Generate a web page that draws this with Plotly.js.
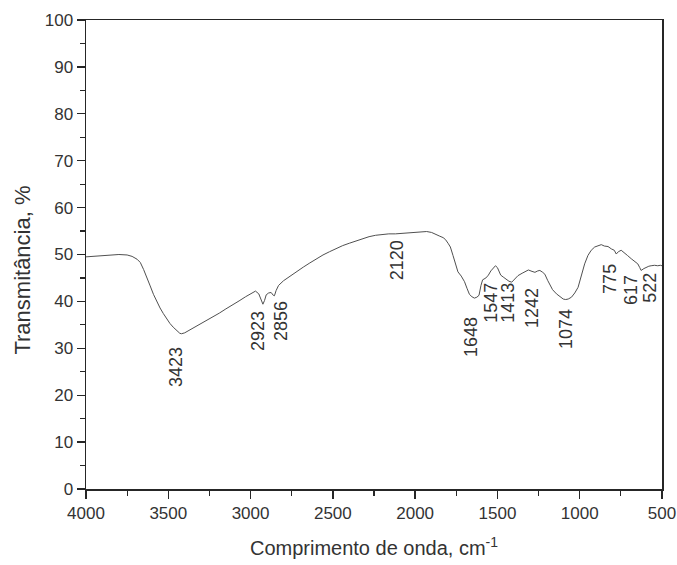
<!DOCTYPE html>
<html>
<head>
<meta charset="utf-8">
<script src="https://cdn.plot.ly/plotly-3.0.1.min.js"></script>
<style>html,body{margin:0;padding:0;background:#fff;}#chart{width:677px;height:565px;}</style>
</head>
<body>
<div id="chart"></div>
<script>
// Wavenumber (cm-1) and transmittance (%)
const wavenumber = [4000,3950,3900,3850,3800,3750,3720,3690,3670,3650,3630,3610,3590,3570,3550,3530,3510,3490,3470,3450,3430,3420,3400,3380,3350,3310,3270,3230,3190,3150,3110,3070,3030,2990,2970,2950,2935,2925,2915,2905,2890,2875,2862,2855,2845,2830,2800,2760,2720,2680,2640,2600,2560,2520,2480,2440,2400,2360,2320,2280,2240,2200,2160,2120,2080,2040,2000,1960,1930,1900,1877,1850,1830,1816,1800,1786,1770,1756,1740,1720,1700,1685,1670,1655,1640,1625,1612,1600,1590,1570,1555,1540,1525,1512,1500,1490,1480,1465,1450,1430,1413,1395,1375,1350,1330,1312,1290,1272,1255,1242,1225,1212,1195,1181,1165,1141,1120,1100,1085,1070,1050,1030,1010,990,970,950,930,909,890,869,850,828,808,790,778,765,748,730,710,687,665,647,635,627,610,596,580,566,545,526,510,500];
const transmittance = [49.5,49.6,49.7,49.9,50.0,49.9,49.6,49.0,48.3,46.8,45.2,43.3,41.5,40.0,38.6,37.4,36.3,35.3,34.5,33.8,33.2,33.1,33.3,33.7,34.3,35.1,35.8,36.6,37.5,38.4,39.2,40.1,41.0,41.8,42.2,41.6,40.2,39.4,40.2,41.4,41.8,41.9,41.3,41.2,42.3,43.4,44.4,45.4,46.3,47.3,48.2,49.1,49.9,50.6,51.3,51.9,52.4,52.9,53.4,53.8,54.1,54.3,54.4,54.4,54.5,54.6,54.8,54.9,54.9,54.7,54.4,53.9,53.6,53.2,52.4,51.6,49.8,48.0,46.3,45.4,44.2,42.8,41.5,41.0,40.7,40.9,41.3,43.4,44.6,45.0,45.6,46.5,47.0,47.6,47.2,46.4,45.6,45.2,44.8,44.3,44.1,44.8,45.5,46.0,46.4,46.7,46.4,46.2,46.5,46.6,46.2,45.8,44.5,43.4,42.5,41.6,41.0,40.5,40.4,40.5,40.9,41.8,43.0,45.6,48.0,49.8,50.9,51.6,51.9,52.1,51.8,51.7,51.2,50.9,50.1,50.6,50.9,50.3,49.8,49.1,48.6,48.0,47.2,46.6,47.0,47.3,47.5,47.6,47.7,47.6,47.7,47.6];

// Peak labels and where their text sits on the chart
const peakLabels = ["3423","2923","2856","2120","1648","1547","1413","1242","1074","775","617","522"];
const labelX = [3453,2955,2815,2110,1661,1539,1436,1290,1083,816,689,573];
const labelY = [26.0,33.7,35.8,48.8,32.4,39.7,39.7,38.6,34.1,44.8,42.4,42.9];

const xTicks = [4000,3500,3000,2500,2000,1500,1000,500];
const yTicks = [0,10,20,30,40,50,60,70,80,90,100];

const xTitle = "Comprimento de onda, cm<sup>-1</sup>";
const yTitle = "Transmitância, %";

const fontFam = "Liberation Sans, Arial, sans-serif";
const ink = "#262626";

const trace = {
  x: wavenumber, y: transmittance, type: "scatter", mode: "lines",
  line: {color: "#505050", width: 1}, hoverinfo: "skip"
};

const annotations = peakLabels.map((t, i) => ({
  x: labelX[i], y: labelY[i], xref: "x", yref: "y", text: t,
  showarrow: false, textangle: -90,
  font: {family: fontFam, size: 18, color: "#333"}
}));

// y-axis title (placed as an annotation so it can sit slightly below centre as in the reference)
annotations.push({
  x: -0.110, y: 0.467, xref: "paper", yref: "paper", text: yTitle,
  showarrow: false, textangle: -90, xanchor: "center", yanchor: "middle",
  font: {family: fontFam, size: 22, color: "#333"}
});

const layout = {
  width: 677, height: 565,
  margin: {l: 86, r: 15, t: 20, b: 76},
  paper_bgcolor: "#fff", plot_bgcolor: "#fff",
  showlegend: false,
  font: {family: fontFam, color: ink},
  xaxis: {
    range: [4000, 500], autorange: false,
    tickmode: "array", tickvals: xTicks, ticktext: xTicks.map(String),
    ticks: "outside", ticklen: 8, tickwidth: 1.3, tickcolor: ink,
    minor: {dtick: 250, ticks: "outside", ticklen: 5, tickwidth: 1.2, tickcolor: ink, showgrid: false},
    showgrid: false, zeroline: false,
    showline: true, linecolor: ink, linewidth: 1.5, mirror: true,
    tickfont: {family: fontFam, size: 17, color: "#333"},
    title: {text: xTitle, font: {family: fontFam, size: 20, color: "#333"}, standoff: 19}
  },
  yaxis: {
    range: [0, 100], autorange: false,
    tickmode: "array", tickvals: yTicks, ticktext: yTicks.map(String),
    ticks: "outside", ticklen: 8, tickwidth: 1.3, tickcolor: ink,
    minor: {dtick: 5, ticks: "outside", ticklen: 5, tickwidth: 1.2, tickcolor: ink, showgrid: false},
    showgrid: false, zeroline: false,
    showline: true, linecolor: ink, linewidth: 1.5, mirror: true,
    tickfont: {family: fontFam, size: 17, color: "#333"}
  },
  annotations: annotations
};

Plotly.newPlot("chart", [trace], layout, {displayModeBar: false, staticPlot: true});
</script>
</body>
</html>
